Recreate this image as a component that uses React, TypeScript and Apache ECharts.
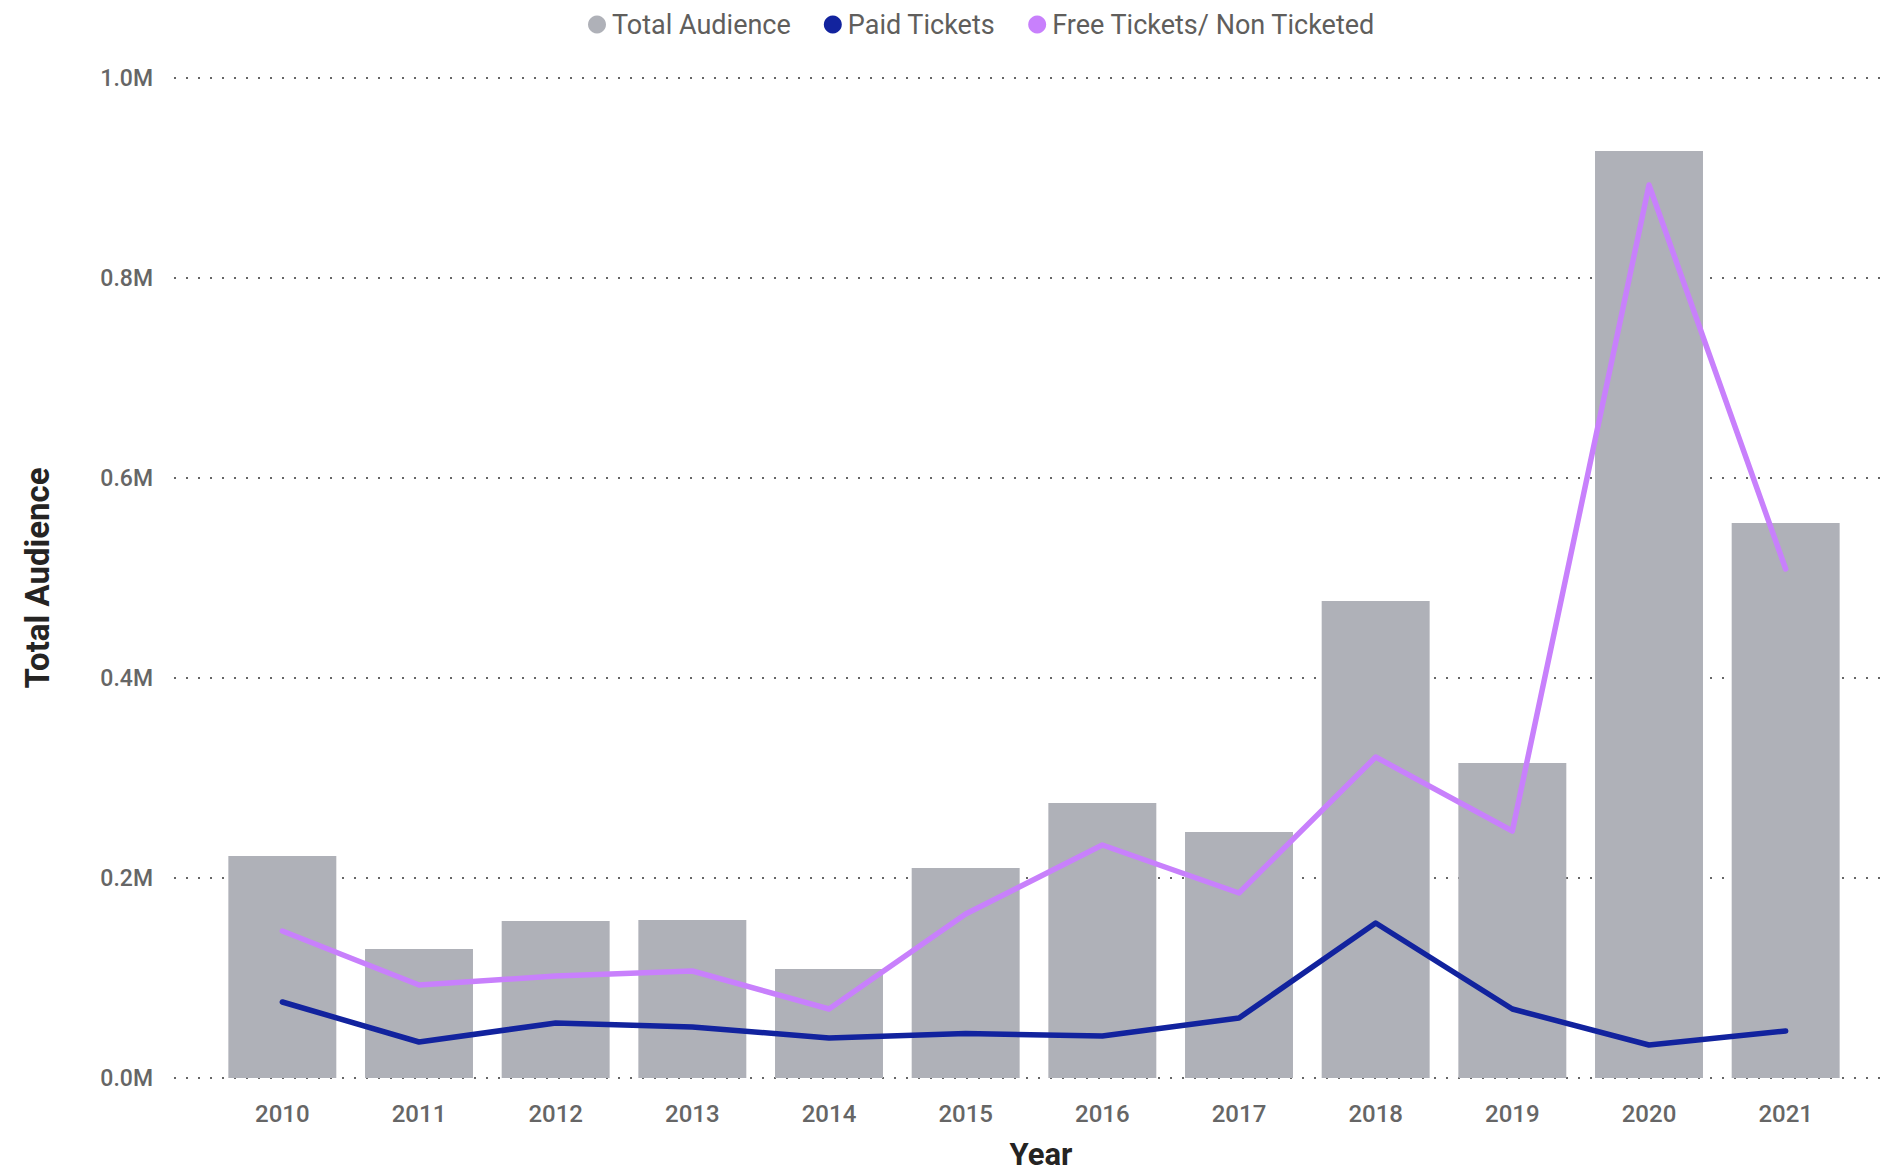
import React, { useEffect, useRef } from "react";
import * as echarts from "echarts";

const years = ["2010", "2011", "2012", "2013", "2014", "2015", "2016", "2017", "2018", "2019", "2020", "2021"];
const totalAudience = [222000, 129000, 157000, 158000, 109000, 210000, 275000, 246000, 477000, 315000, 927000, 555000];
const paidTickets = [76000, 36000, 55000, 51000, 40000, 44500, 42000, 60000, 155000, 69000, 33000, 47000];
const freeTickets = [147000, 93000, 102000, 107000, 69000, 164000, 233000, 185000, 321000, 247000, 893000, 509000];
const seriesNames = ["Total Audience", "Paid Tickets", "Free Tickets/ Non Ticketed"];
const colors = ["#AFB1B8", "#12239E", "#C880FC"];

const GRID_TOP = 78;
const GRID_BOTTOM = 95;

export default function App() {
  const ref = useRef<HTMLDivElement>(null);
  useEffect(() => {
    if (!ref.current) return;
    const chart = echarts.init(ref.current, undefined, { renderer: "svg" });
    const font = "Roboto";
    chart.setOption({
      animation: false,
      color: colors,
      textStyle: { fontFamily: font },
      legend: {
        left: 583,
        top: 6,
        icon: "circle",
        itemWidth: 18,
        itemHeight: 18,
        itemGap: 33,
        data: seriesNames,
        textStyle: { fontFamily: font, fontSize: 27, color: "#605E5C", padding: [0, 0, 0, 1] },
      },
      grid: [
        { left: 174, right: 20, top: GRID_TOP, bottom: GRID_BOTTOM, outerBoundsMode: "none", containLabel: false },
        { left: 214, right: 46, top: GRID_TOP, bottom: GRID_BOTTOM, outerBoundsMode: "none", containLabel: false },
      ],
      xAxis: [
        { type: "value", gridIndex: 0, show: false, min: 0, max: 1 },
        {
          type: "category",
          gridIndex: 1,
          data: years,
          axisLine: { show: false },
          axisTick: { show: false },
          axisLabel: { margin: 24, fontSize: 24, fontWeight: 500, color: "#666666", fontFamily: font },
          name: "Year",
          nameLocation: "middle",
          nameGap: 61,
          nameTextStyle: {
            fontSize: 31,
            lineHeight: 31,
            fontWeight: "bold",
            color: "#252423",
            fontFamily: font,
            padding: [0, 0, 0, 14],
          },
        },
      ],
      yAxis: [
        {
          type: "value",
          gridIndex: 0,
          min: 0,
          max: 1000000,
          interval: 200000,
          axisLine: { show: false },
          axisTick: { show: false },
          axisLabel: {
            margin: 21,
            fontSize: 23,
            fontWeight: 500,
            color: "#666666",
            fontFamily: font,
            formatter: (v: number) => (v / 1000000).toFixed(1) + "M",
          },
          splitLine: { show: true, lineStyle: { color: "#666666", width: 2, type: [2, 10] } },
          name: "Total Audience",
          nameLocation: "middle",
          nameGap: 120,
          nameTextStyle: { fontSize: 33, fontWeight: "bold", color: "#252423", fontFamily: font },
        },
        {
          type: "value",
          gridIndex: 1,
          min: 0,
          max: 1000000,
          interval: 200000,
          show: false,
          splitLine: { show: false },
        },
      ],
      series: [
        {
          name: seriesNames[0],
          type: "bar",
          xAxisIndex: 1,
          yAxisIndex: 1,
          data: totalAudience,
          barCategoryGap: "21%",
          itemStyle: { color: colors[0] },
        },
        {
          name: seriesNames[1],
          type: "line",
          xAxisIndex: 1,
          yAxisIndex: 1,
          data: paidTickets,
          symbol: "none",
          lineStyle: { width: 5.5, color: colors[1], cap: "round", join: "round" },
          itemStyle: { color: colors[1] },
        },
        {
          name: seriesNames[2],
          type: "line",
          xAxisIndex: 1,
          yAxisIndex: 1,
          data: freeTickets,
          symbol: "none",
          lineStyle: { width: 5.5, color: colors[2], cap: "round", join: "round" },
          itemStyle: { color: colors[2] },
        },
      ],
    });
    return () => chart.dispose();
  }, []);
  return <div ref={ref} style={{ width: 1900, height: 1173, position: "absolute", left: 0, top: 0 }} />;
}
